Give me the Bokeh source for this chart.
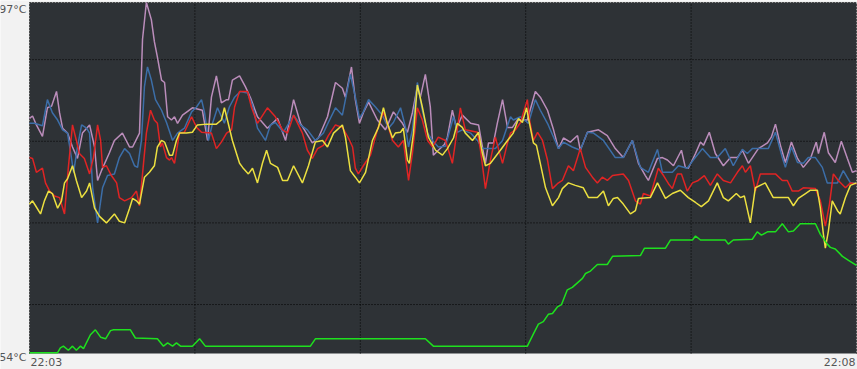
from bokeh.plotting import figure
from bokeh.models import Range1d, Label
from bokeh.embed import file_html
from bokeh.resources import INLINE

# time in seconds after 22:03, temperatures in °C
t_start, t_end = 0, 300
v_min, v_max = 54, 97
x_ticks = [0, 60, 120, 180, 240, 300]
y_ticks = [60, 70, 80, 90, 97]
time_labels = ["22:03", "22:08"]
temp_labels = ["97°C", "54°C"]

pink_t = [0,1.1,2.5,4.7,6.5,8.0,9.8,10.9,12.0,13.8,15.6,17.4,19.2,21.8,23.6,24.7,26.1,29.0,30.8,33.7,
          36.3,37.4,39.9,41.0,42.4,44.2,45.3,46.4,47.9,49.0,50.1,51.5,52.6,53.7,55.5,59.1,62.7,64.6,66.0,67.8,
          69.6,71.5,72.2,73.6,76.2,78.3,80.2,82.7,86.3,90.0,92.9,95.8,98.3,102.6,104.8,108.1,111.0,113.5,114.6,116.8,
          118.2,119.7,121.1,123.0,126.2,129.1,132.0,135.3,137.1,138.9,140.7,141.8,143.6,145.4,146.5,148.3,150.5,
          151.6,153.4,154.9,157.0,160.0,162.9,164.3,165.4,166.5,168.3,169.7,171.6,173.4,175.2,177.0,180.6,183.5,185.3,
          187.9,190.1,191.9,193.7,196.2,198.8,199.8,202.4,206.4,209.6,212.5,215.4,218.7,220.9,223.4,
          224.5,227.8,229.6,231.4,233.6,236.5,237.9,239.0,241.6,243.4,244.5,246.6,248.8,251.7,254.3,256.8,258.6,260.8,
          264.4,267.7,269.1,270.6,272.4,274.2,276.4,278.6,280.7,283.3,285.4,286.2,288.3,289.8,292.3,294.5,296.7,298.5,300]
pink_v = [82.8,83.1,82.0,80.6,84.1,84.3,86.1,83.5,81.6,81.0,79.3,77.9,81.0,82.0,79.3,75.2,76.4,78.6,80.1,81.0,
          79.3,79.3,81.0,92.5,97.0,94.9,92.2,90.3,87.5,87.2,83.0,82.6,83.0,82.2,83.2,84.1,83.8,80.1,85.4,88.0,
          84.7,85.1,85.1,87.5,88.0,86.7,85.3,83.0,81.6,82.8,80.1,85.1,82.2,79.8,80.4,83.0,87.2,86.5,85.4,89.1,
          85.1,82.2,83.5,84.8,82.6,81.4,83.6,82.2,81.1,83.5,86.7,85.4,88.2,84.2,78.3,78.9,79.6,
          80.5,83.8,81.6,83.2,82.2,82.0,79.3,77.3,79.8,79.8,82.2,85.1,81.7,81.7,82.6,82.6,86.1,85.4,
          83.8,81.4,79.1,80.4,79.9,80.7,78.9,81.1,81.4,80.7,79.1,78.0,80.1,77.3,75.8,
          75.2,77.9,78.0,77.7,77.0,78.9,76.8,76.7,78.5,79.9,79.5,81.1,78.5,77.0,78.0,78.0,78.9,77.3,
          79.1,79.8,80.5,82.1,79.5,77.4,79.9,77.9,76.8,77.9,79.9,78.5,81.1,78.6,77.4,80.0,77.9,76.2,76.4]

blue_t = [0,1.8,4.7,6.5,8.3,10.2,12.0,13.8,15.2,16.0,17.4,18.9,20.7,21.8,22.9,24.7,26.5,28.3,30.8,32.6,
          34.5,36.3,38.1,39.2,40.6,41.7,42.8,44.2,45.7,47.9,49.7,51.9,53.7,56.2,58.8,60.6,62.4,63.5,64.9,66.4,
          68.2,70.7,72.5,74.4,76.5,79.1,80.9,82.7,85.6,87.4,89.2,92.1,95.8,98.3,100.8,103.7,106.6,108.4,111.0,113.5,
          116.4,118.2,119.7,121.1,123.0,125.5,128.0,130.2,132.0,134.6,136.4,137.5,138.9,140.7,142.5,144.4,146.2,148.3,150.9,153.8,
          155.2,157.0,160.0,162.5,164.3,169.0,171.6,174.5,175.5,178.1,181.0,183.5,185.3,187.9,190.1,191.9,193.7,196.9,199.8,202.4,
          204.6,208.2,212.5,215.4,218.7,221.6,224.5,227.8,229.6,233.2,235.4,238.6,240.8,244.1,247.0,249.5,252.4,255.3,258.6,260.4,
          262.2,268.0,270.6,273.1,274.2,276.4,278.6,280.7,282.5,285.1,287.6,289.4,293.1,295.2,297.8,300]
blue_v = [82.2,82.2,81.9,85.1,83.5,82.6,81.4,81.0,78.0,76.2,79.3,82.0,81.6,81.0,74.3,70.0,74.3,75.8,76.0,78.0,
          79.1,78.5,77.0,76.8,80.1,86.7,89.1,87.5,85.1,83.8,82.3,80.1,81.0,81.6,83.6,84.2,85.1,83.5,80.1,82.2,
          84.1,82.2,84.2,85.4,86.1,85.9,84.4,81.6,80.1,82.0,82.3,81.1,83.2,82.0,81.4,80.1,81.0,82.3,84.1,83.2,
          88.2,85.4,82.8,83.6,85.1,84.2,83.2,81.6,82.3,84.1,81.7,79.3,81.4,87.2,83.8,81.0,80.1,79.3,79.4,83.0,
          81.1,81.4,81.0,80.1,79.1,79.1,80.1,83.0,82.6,83.0,82.2,85.1,83.8,82.2,80.5,79.1,79.9,79.3,78.9,81.1,
          81.0,80.1,78.0,78.0,80.1,76.8,76.2,79.0,76.2,76.2,77.0,76.7,77.7,79.1,78.0,78.0,79.1,77.0,79.0,78.5,
          79.1,79.1,81.1,78.0,76.8,79.3,77.4,77.3,78.0,78.0,76.8,74.9,74.9,76.4,74.9,74.9]

red_t = [0,1.1,2.5,4.7,5.8,7.3,9.1,10.9,12.7,14.1,15.6,17.0,18.1,19.9,21.8,23.2,24.7,25.8,26.5,27.9,
         29.7,31.6,32.6,34.5,37.0,38.8,39.9,41.0,42.4,43.9,45.3,46.4,47.5,48.2,49.7,50.8,51.5,52.6,54.4,56.2,
         58.8,60.6,62.4,66.0,67.8,69.6,71.5,73.3,74.4,76.2,79.1,80.5,82.7,86.3,89.2,91.8,93.6,95.8,99.0,100.8,
         102.6,104.5,106.6,108.4,111.0,113.5,115.7,117.2,118.2,119.3,121.1,123.7,126.2,128.4,130.2,131.7,133.8,135.6,137.5,138.9,
         140.7,142.5,144.4,146.2,148.3,150.9,153.4,156.3,158.1,162.5,163.6,165.4,167.2,169.0,170.1,171.6,173.4,174.5,176.3,178.1,
         180.6,181.4,182.8,184.3,186.1,187.9,189.7,191.5,193.3,195.5,197.3,199.8,201.7,204.2,206.0,207.8,209.6,211.5,215.4,217.3,
         219.8,221.6,222.7,225.2,228.1,230.0,231.8,233.2,235.0,236.5,238.6,240.5,242.6,244.8,247.0,249.5,251.7,254.3,256.8,258.6,
         259.7,261.5,263.3,265.1,270.6,273.1,274.9,276.7,278.9,280.7,285.1,286.9,288.7,290.2,291.6,293.4,296.0,297.8,300]
red_v = [78.0,77.9,76.2,76.7,74.9,73.9,73.3,73.1,71.1,76.8,82.0,80.1,78.5,77.9,76.0,78.0,82.0,80.1,76.8,77.0,
         75.8,74.9,73.1,72.7,73.1,73.9,72.1,76.0,81.0,83.8,82.6,82.2,79.3,79.8,78.0,77.7,78.0,77.3,81.0,81.1,
         83.0,81.7,81.1,81.0,79.1,79.9,81.0,81.4,84.2,86.1,86.1,84.2,82.2,84.1,83.0,81.4,81.0,83.2,81.0,78.9,
         77.9,79.1,79.5,80.7,82.0,81.7,80.4,79.3,76.7,76.0,77.0,78.3,81.4,83.6,81.7,80.1,79.3,80.1,75.2,78.5,
         84.1,82.6,80.1,79.3,80.5,80.1,77.3,84.1,81.4,81.1,78.9,74.2,77.7,80.5,79.1,77.3,79.8,81.0,81.4,82.3,
         85.1,82.6,80.1,81.1,80.1,77.7,74.2,74.8,75.2,77.0,76.4,79.1,76.8,75.6,74.9,75.6,75.2,75.8,76.0,75.2,
         72.7,72.3,73.6,73.3,76.7,75.8,74.8,74.2,76.0,76.0,73.9,74.9,75.2,75.8,74.6,76.0,75.2,74.9,76.2,77.0,
         76.2,77.0,73.9,76.0,76.0,75.2,75.2,73.9,73.9,74.3,74.2,72.7,69.6,72.3,76.0,75.2,74.3,74.9,74.8]

yellow_t = [0,1.1,2.2,4.0,5.4,6.9,8.3,10.2,11.6,12.7,13.8,15.6,17.0,18.9,20.7,21.8,23.6,25.4,27.9,30.8,
            32.6,34.5,36.3,37.4,38.8,39.9,41.7,43.5,45.3,46.4,47.9,49.0,50.8,51.9,53.3,54.4,56.9,59.1,60.9,64.2,
            67.8,69.6,70.7,71.8,73.6,76.2,77.3,79.4,80.9,82.7,84.5,86.0,87.4,90.0,91.8,93.6,95.8,99.0,101.2,103.7,
            106.3,108.1,110.3,113.5,114.6,116.4,118.2,119.7,121.9,124.4,126.6,128.4,129.8,131.7,132.7,134.6,135.6,137.1,137.8,139.3,
            140.7,142.5,144.7,147.3,149.8,151.6,153.8,155.2,157.0,158.1,160.7,162.9,164.3,165.4,167.2,170.8,173.4,175.5,177.4,178.8,
            180.3,181.0,182.8,183.9,185.3,187.2,189.7,191.9,193.3,195.5,198.0,200.9,202.8,206.0,208.2,210.0,211.8,213.3,215.4,218.0,
            219.8,220.9,225.2,227.8,230.7,233.2,236.1,239.0,241.6,243.7,246.3,249.5,251.7,253.5,256.4,257.9,259.3,261.5,263.3,266.9,
            269.8,275.3,277.1,278.9,281.5,283.3,285.8,286.9,288.0,288.7,289.8,291.2,293.1,294.1,296.0,297.8,300]
yellow_v = [72.3,72.7,72.1,71.1,72.7,73.9,73.6,71.8,72.7,74.9,75.4,77.0,75.2,73.1,73.9,74.9,71.8,70.8,70.0,71.1,
            70.2,70.0,71.8,73.0,72.7,72.3,75.6,76.2,77.0,79.3,80.1,79.9,78.3,78.3,80.1,81.0,81.0,81.1,82.0,82.1,
            82.1,82.6,84.1,82.6,80.1,77.3,76.8,76.0,76.7,74.9,77.3,78.9,77.3,76.8,75.2,75.2,77.0,74.9,77.0,79.9,
            80.1,79.3,81.0,82.0,80.5,76.4,75.6,74.9,76.2,80.1,81.7,84.1,82.2,80.4,81.0,81.1,81.6,77.7,77.3,81.0,
            86.9,84.2,80.5,78.9,78.3,79.1,80.4,82.2,81.7,81.0,80.1,81.1,78.5,77.0,77.3,78.9,80.1,81.0,82.8,82.3,
            84.1,82.8,79.8,79.5,77.3,74.3,72.1,73.1,74.2,74.9,74.6,74.3,73.1,73.1,73.9,72.1,73.0,73.1,72.3,71.1,
            71.5,73.0,73.1,74.9,73.0,73.6,74.0,73.1,72.5,72.0,72.7,74.9,73.1,72.7,73.6,73.1,73.3,70.0,74.3,74.9,
            73.1,73.1,72.1,73.0,73.6,74.0,74.0,71.8,68.6,66.9,69.0,72.7,71.5,71.1,73.1,74.6,74.9]

green_t = [0,10.2,11.2,12.3,14.1,15.6,17.0,18.5,19.6,22.1,23.9,25.8,27.6,29.4,30.5,36.6,38.4,46.4,48.6,50.1,
           51.9,53.3,54.8,59.1,61.7,63.8,101.9,103.7,143.6,146.5,180.6,182.8,184.6,186.4,188.2,189.7,191.5,193.0,195.1,196.9,
           200.6,201.7,203.5,206.0,209.6,211.5,221.6,223.1,230.7,232.5,240.5,241.6,243.4,252.4,253.5,255.3,262.2,264.0,265.5,267.7,
           270.6,273.1,275.3,277.1,279.6,285.1,286.9,289.4,290.5,292.3,294.9,297.1,300]
green_v = [54.1,54.1,54.7,54.9,54.4,54.9,54.4,54.9,54.6,56.3,56.9,56.0,55.8,56.8,56.9,56.9,55.9,55.8,54.9,55.3,
           54.9,55.3,54.9,54.9,55.8,54.9,54.9,55.8,55.8,54.9,54.9,56.4,57.6,57.9,58.8,58.9,59.7,60.0,61.8,62.1,
           63.2,63.8,64.1,64.9,64.9,65.9,66.0,66.9,66.9,67.9,67.9,68.4,67.9,67.9,67.4,67.9,68.0,68.9,68.5,68.9,
           68.9,69.9,68.9,69.0,69.9,69.9,68.6,67.4,67.0,66.8,65.9,65.4,64.8]

# layout (pixels): plot area inside the canvas, room around it for the labels
W, H = 857, 369
pad_l, pad_r, pad_t, pad_b = 29, 1, 2, 16
sx = (t_end - t_start) / (W - pad_l - pad_r)
sy = (v_max - v_min) / (H - pad_t - pad_b)
x_range = Range1d(t_start - pad_l * sx, t_end + pad_r * sx)
y_range = Range1d(v_min - pad_b * sy, v_max + pad_t * sy)

p = figure(width=W, height=H, x_range=x_range, y_range=y_range,
           output_backend="svg", toolbar_location=None,
           x_axis_type=None, y_axis_type=None, min_border=0,
           background_fill_color="#f2f2f2", border_fill_color="#f2f2f2",
           outline_line_color=None)

# dark plotting area
p.quad(left=[t_start], right=[t_end], bottom=[v_min], top=[v_max],
       fill_color="#2e3236", line_color=None)

# dotted grid
p.segment(x0=x_ticks, y0=[v_min] * len(x_ticks), x1=x_ticks, y1=[v_max] * len(x_ticks),
          line_color="#000000", line_dash="1 2", line_width=1)
p.segment(x0=[t_start] * len(y_ticks), y0=y_ticks, x1=[t_end] * len(y_ticks), y1=y_ticks,
          line_color="#000000", line_dash="1 2", line_width=1)

p.line(pink_t, pink_v, line_color="#bb8dbb", line_width=1.5)
p.line(blue_t, blue_v, line_color="#3c6ea8", line_width=1.5)
p.line(red_t, red_v, line_color="#e02424", line_width=1.5)
p.line(yellow_t, yellow_v, line_color="#ece040", line_width=1.5)
p.line(green_t, green_v, line_color="#1ee01e", line_width=1.5)

font = "DejaVu Sans"
col = "#555555"
p.add_layout(Label(x=t_start, y=v_max, text=temp_labels[0], x_offset=-3, y_offset=0, text_align="right",
                   text_baseline="top", text_font_size="11px", text_color=col, text_font=font))
p.add_layout(Label(x=t_start, y=v_min, text=temp_labels[1], x_offset=-3, y_offset=3, text_align="right",
                   text_baseline="top", text_font_size="11px", text_color=col, text_font=font))
p.add_layout(Label(x=t_start, y=v_min, text=time_labels[0], x_offset=1, y_offset=-2, text_align="left",
                   text_baseline="top", text_font_size="11px", text_color=col, text_font=font))
p.add_layout(Label(x=t_end, y=v_min, text=time_labels[1], x_offset=-1, y_offset=-2, text_align="right",
                   text_baseline="top", text_font_size="11px", text_color=col, text_font=font))

open("out.html", "w").write(file_html(p, INLINE))
